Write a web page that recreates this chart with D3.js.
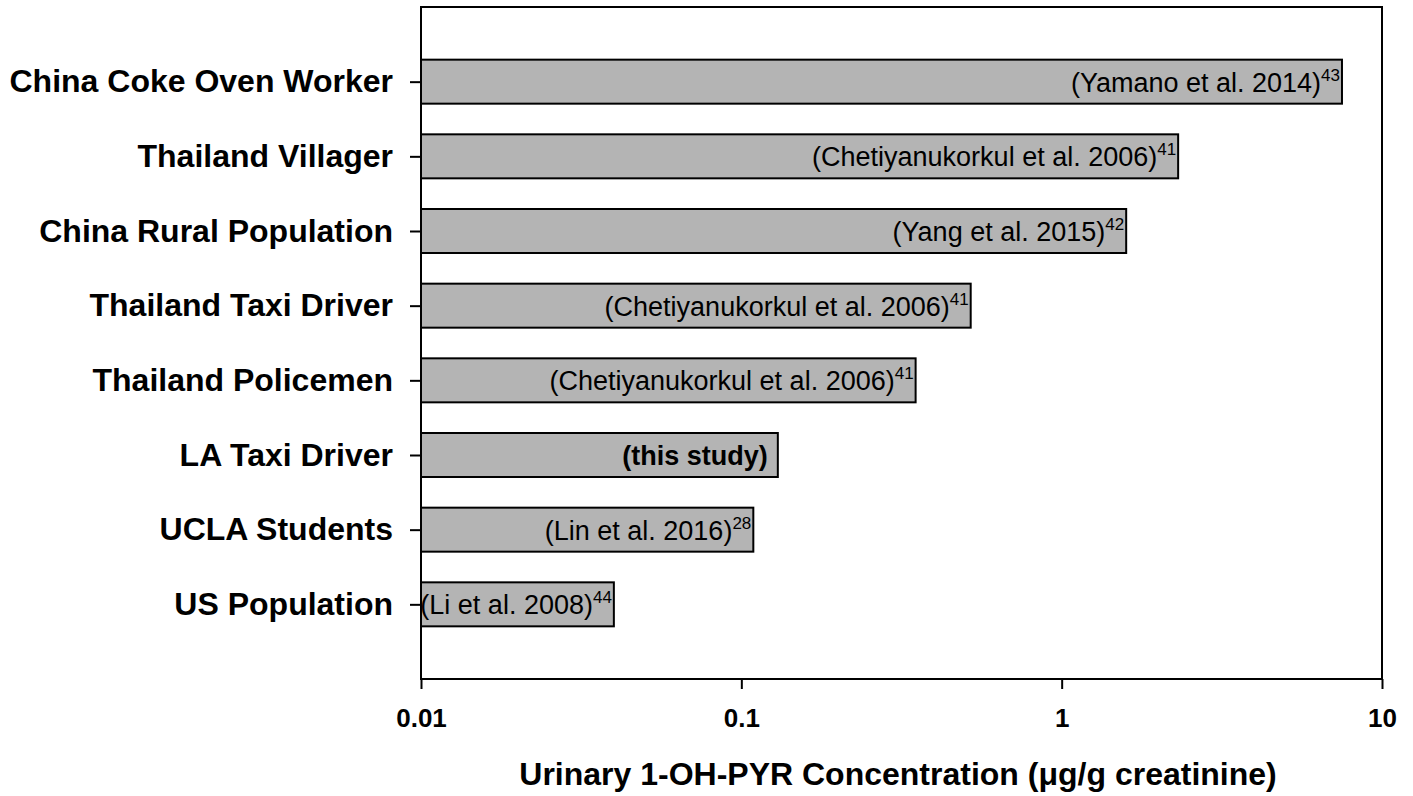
<!DOCTYPE html>
<html>
<head>
<meta charset="utf-8">
<script src="https://cdn.jsdelivr.net/npm/d3@7"></script>
<style>
  body { margin: 0; background: #fff; }
  svg { display: block; font-family: "Liberation Sans", Arial, sans-serif; }
</style>
</head>
<body>
<div id="chart"></div>
<script>
// Urinary 1-OH-PYR comparison - log-scale horizontal bars
const categories = [
    "China Coke Oven Worker",
    "Thailand Villager",
    "China Rural Population",
    "Thailand Taxi Driver",
    "Thailand Policemen",
    "LA Taxi Driver",
    "UCLA Students",
    "US Population"
];
const values = [7.5, 2.31, 1.59, 0.52, 0.35, 0.13, 0.109, 0.04];
const ref_texts = [
    "(Yamano et al. 2014)",
    "(Chetiyanukorkul et al. 2006)",
    "(Yang et al. 2015)",
    "(Chetiyanukorkul et al. 2006)",
    "(Chetiyanukorkul et al. 2006)",
    "(this study)",
    "(Lin et al. 2016)",
    "(Li et al. 2008)"
];
const ref_nums = ["43", "41", "42", "41", "41", "", "28", "44"];
const x_ticks = [0.01, 0.1, 1, 10];
const x_tick_labels = ["0.01", "0.1", "1", "10"];

const width = 1413;
const height = 796;
const margin = { top: 7, right: 31, bottom: 117, left: 421 };
const inner_width = width - margin.left - margin.right;
const inner_height = height - margin.top - margin.bottom;

const svg = d3.select("#chart").append("svg")
    .attr("width", width)
    .attr("height", height);

const g = svg.append("g")
    .attr("transform", `translate(${margin.left},${margin.top})`);

const x = d3.scaleLog().domain([0.01, 10]).range([0, inner_width]);
const y = d3.scalePoint().domain(categories).range([0, inner_height]).padding(1);
const bar_h = 44;

const rows = categories.map((c, i) => ({
    cat: c, value: values[i], ref: ref_texts[i], num: ref_nums[i]
}));

// bars
g.selectAll("rect.bar")
    .data(rows)
    .join("rect")
    .attr("class", "bar")
    .attr("x", x(0.01))
    .attr("y", d => y(d.cat) - bar_h / 2)
    .attr("width", d => x(d.value) - x(0.01))
    .attr("height", bar_h)
    .attr("fill", "#b4b4b4")
    .attr("stroke", "#000")
    .attr("stroke-width", 2);

// reference labels inside bars
const labels = g.selectAll("text.ref")
    .data(rows)
    .join("text")
    .attr("class", "ref")
    .attr("x", d => x(d.value) - (d.num ? 2 : 10))
    .attr("y", d => y(d.cat) + 10)
    .attr("text-anchor", "end")
    .style("font-size", "27px")
    .style("fill", "#000");

labels.append("tspan")
    .style("font-weight", d => d.num ? "normal" : "bold")
    .text(d => d.ref);

labels.filter(d => d.num).append("tspan")
    .attr("dy", -11)
    .style("font-size", "17px")
    .text(d => d.num);

// frame
g.append("rect")
    .attr("width", inner_width)
    .attr("height", inner_height)
    .attr("fill", "none")
    .attr("stroke", "#000")
    .attr("stroke-width", 2);

// x axis
const x_axis_g = g.append("g")
    .attr("transform", `translate(0,${inner_height})`)
    .call(d3.axisBottom(x)
        .tickValues(x_ticks)
        .tickFormat((d, i) => x_tick_labels[i])
        .tickSize(10)
        .tickSizeOuter(0)
        .tickPadding(20));
x_axis_g.select(".domain").remove();
x_axis_g.selectAll("line").attr("stroke", "#000").attr("stroke-width", 2);
x_axis_g.selectAll("text")
    .attr("fill", "#000")
    .style("font-family", "'Liberation Sans', Arial, sans-serif")
    .style("font-size", "26px")
    .style("font-weight", "bold");

// y axis
const y_axis_g = g.append("g")
    .call(d3.axisLeft(y).tickSize(11).tickPadding(17));
y_axis_g.select(".domain").remove();
y_axis_g.selectAll("line").attr("stroke", "#000").attr("stroke-width", 2);
y_axis_g.selectAll("text")
    .attr("fill", "#000")
    .style("font-family", "'Liberation Sans', Arial, sans-serif")
    .style("font-size", "32px")
    .style("font-weight", "bold");

// axis title
svg.append("text")
    .attr("x", 898)
    .attr("y", 785)
    .attr("text-anchor", "middle")
    .style("font-size", "32px")
    .style("font-weight", "bold")
    .text("Urinary 1-OH-PYR Concentration (\u03bcg/g creatinine)");
</script>
</body>
</html>
